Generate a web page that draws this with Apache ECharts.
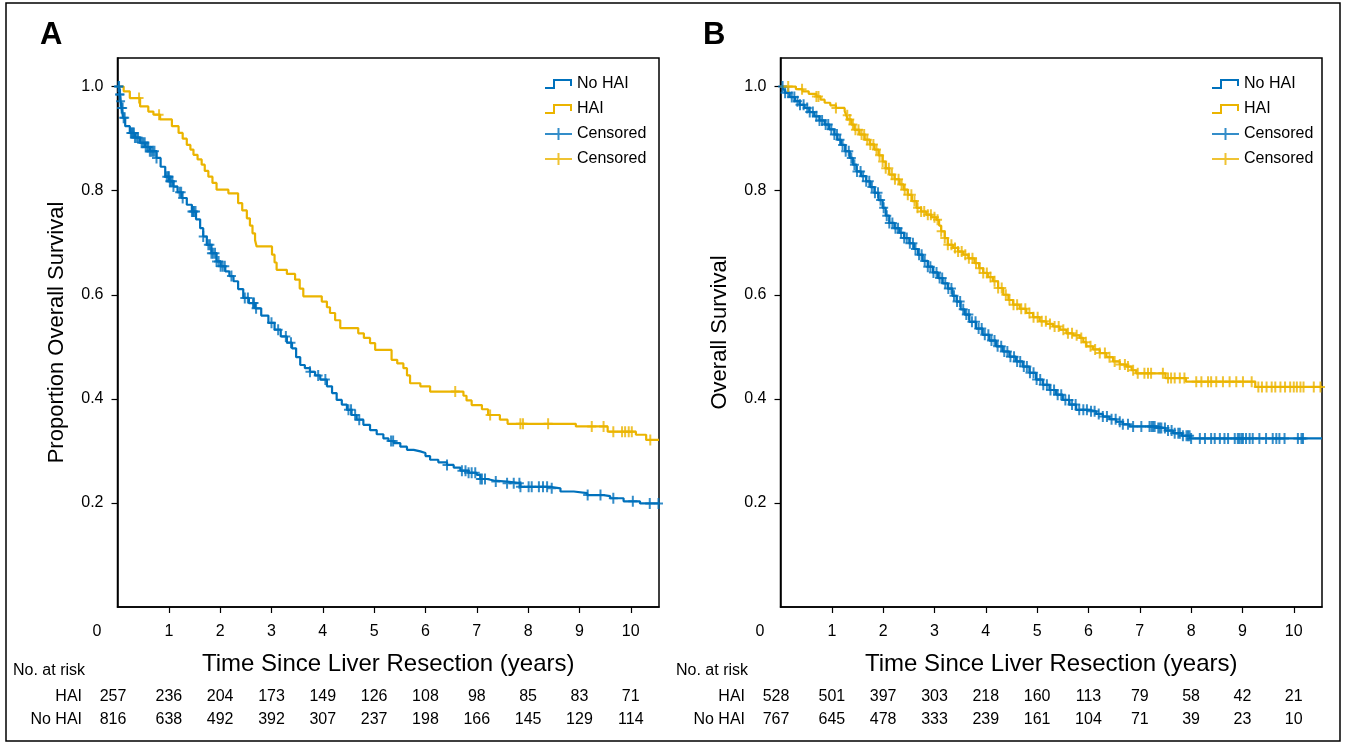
<!DOCTYPE html>
<html>
<head>
<meta charset="utf-8">
<script src="https://cdn.jsdelivr.net/npm/echarts@6/dist/echarts.min.js"></script>
<style>
html,body{margin:0;padding:0;background:#fff;}
#c{width:1345px;height:743px;}
</style>
</head>
<body>
<div id="c"></div>
<script>
// ---------- DATA ----------
var xTickValues = [1,2,3,4,5,6,7,8,9,10];
var xLabelValues = [0,1,2,3,4,5,6,7,8,9,10];
var yTickValues = [0.2,0.4,0.6,0.8,1.0];
var riskTimes = [0,1,2,3,4,5,6,7,8,9,10];

// Panel A
var aRiskHAI   = [257,236,204,173,149,126,108,98,85,83,71];
var aRiskNoHAI = [816,638,492,392,307,237,198,166,145,129,114];

var aNoHAI = [[0,1.0],[0.04,0.985],[0.06,0.972],[0.08,0.959],[0.11,0.940],[0.15,0.924],[0.24,0.911],[0.34,0.902],[0.44,0.892],[0.54,0.884],[0.63,0.876],[0.76,0.863],[0.84,0.846],[0.93,0.827],[1.01,0.818],[1.09,0.808],[1.17,0.797],[1.25,0.786],[1.35,0.773],[1.45,0.760],[1.53,0.745],[1.61,0.728],[1.67,0.712],[1.74,0.696],[1.83,0.680],[1.93,0.664],[2.01,0.655],[2.10,0.645],[2.18,0.636],[2.26,0.626],[2.35,0.611],[2.45,0.594],[2.56,0.584],[2.68,0.574],[2.80,0.560],[2.94,0.546],[3.06,0.533],[3.18,0.520],[3.30,0.508],[3.40,0.497],[3.48,0.480],[3.56,0.465],[3.65,0.459],[3.75,0.452],[3.85,0.445],[3.95,0.437],[4.08,0.424],[4.18,0.411],[4.27,0.398],[4.37,0.389],[4.47,0.379],[4.56,0.369],[4.66,0.360],[4.79,0.350],[4.92,0.340],[5.05,0.332],[5.18,0.324],[5.28,0.319],[5.38,0.315],[5.51,0.308],[5.64,0.302],[5.77,0.299],[5.90,0.296],[6.00,0.290],[6.09,0.283],[6.25,0.278],[6.42,0.273],[6.55,0.268],[6.68,0.262],[6.84,0.258],[7.00,0.254],[7.07,0.246],[7.20,0.243],[7.33,0.241],[7.59,0.238],[7.85,0.231],[8.43,0.228],[8.63,0.222],[8.89,0.219],[9.15,0.215],[9.47,0.213],[9.60,0.209],[9.86,0.203],[10.18,0.199],[10.55,0.198]];

var aHAI = [[0,1.0],[0.12,0.991],[0.24,0.978],[0.44,0.962],[0.60,0.952],[0.70,0.946],[0.83,0.937],[1.06,0.924],[1.19,0.911],[1.27,0.900],[1.35,0.888],[1.42,0.879],[1.48,0.869],[1.56,0.860],[1.64,0.850],[1.70,0.838],[1.77,0.827],[1.85,0.815],[1.93,0.802],[2.16,0.795],[2.35,0.776],[2.43,0.762],[2.52,0.747],[2.58,0.733],[2.63,0.718],[2.68,0.705],[2.71,0.693],[3.01,0.677],[3.06,0.662],[3.10,0.648],[3.30,0.640],[3.46,0.629],[3.55,0.612],[3.62,0.597],[3.98,0.587],[4.08,0.576],[4.14,0.565],[4.24,0.551],[4.34,0.536],[4.69,0.526],[4.80,0.517],[4.92,0.507],[5.02,0.494],[5.34,0.475],[5.45,0.468],[5.57,0.459],[5.64,0.445],[5.70,0.430],[5.90,0.424],[6.09,0.414],[6.74,0.406],[6.80,0.397],[6.90,0.388],[7.10,0.380],[7.22,0.369],[7.45,0.360],[7.60,0.352],[8.93,0.347],[9.55,0.337],[10.10,0.331],[10.30,0.321],[10.55,0.321]];

var aNoHAICens = [0.02,0.03,0.04,0.05,0.06,0.08,0.10,0.12,0.14,0.26,0.28,0.30,0.32,0.34,0.37,0.40,0.47,0.50,0.53,0.55,0.58,0.60,0.63,0.66,0.69,0.72,0.76,0.96,0.99,1.00,1.02,1.04,1.07,1.09,1.21,1.24,1.27,1.45,1.47,1.49,1.52,1.67,1.77,1.80,1.83,1.86,1.90,1.93,1.97,2.01,2.05,2.09,2.22,2.48,2.54,2.64,2.66,2.70,3.00,3.13,3.28,3.38,3.75,3.91,4.05,4.50,4.55,4.63,4.71,5.33,5.37,6.42,6.71,6.78,6.84,6.90,6.97,7.07,7.10,7.16,7.37,7.59,7.72,7.83,7.85,8.01,8.07,8.21,8.29,8.37,8.46,9.16,9.41,9.66,10.04,10.37,10.54];
var aHAICens = [0.42,0.81,6.58,7.26,7.85,7.90,8.39,9.24,9.47,9.66,9.83,9.89,9.96,10.02,10.38];

// Panel B
var bRiskHAI   = [528,501,397,303,218,160,113,79,58,42,21];
var bRiskNoHAI = [767,645,478,333,239,161,104,71,39,23,10];

var bNoHAI = [[0,1.0],[0.05,0.994],[0.09,0.988],[0.18,0.980],[0.28,0.972],[0.37,0.965],[0.47,0.959],[0.56,0.951],[0.66,0.943],[0.76,0.935],[0.86,0.927],[0.95,0.918],[1.05,0.908],[1.11,0.898],[1.18,0.888],[1.26,0.876],[1.35,0.863],[1.41,0.850],[1.48,0.837],[1.57,0.828],[1.67,0.818],[1.75,0.807],[1.83,0.796],[1.91,0.782],[1.99,0.767],[2.05,0.752],[2.12,0.738],[2.22,0.728],[2.32,0.719],[2.41,0.709],[2.51,0.699],[2.60,0.688],[2.68,0.677],[2.77,0.665],[2.87,0.654],[2.97,0.643],[3.07,0.632],[3.16,0.622],[3.26,0.612],[3.35,0.598],[3.43,0.587],[3.51,0.572],[3.59,0.562],[3.68,0.548],[3.81,0.535],[3.94,0.523],[4.07,0.512],[4.20,0.501],[4.33,0.491],[4.46,0.481],[4.59,0.472],[4.72,0.462],[4.85,0.450],[4.98,0.437],[5.11,0.427],[5.24,0.417],[5.37,0.408],[5.50,0.398],[5.63,0.389],[5.76,0.379],[6.02,0.376],[6.15,0.371],[6.28,0.366],[6.41,0.361],[6.54,0.356],[6.67,0.351],[6.80,0.347],[7.32,0.344],[7.50,0.339],[7.65,0.334],[7.82,0.329],[7.98,0.324],[10.55,0.324]];

var bHAI = [[0,1.0],[0.30,0.995],[0.43,0.991],[0.55,0.986],[0.70,0.981],[0.78,0.975],[0.86,0.969],[0.97,0.964],[1.08,0.959],[1.25,0.953],[1.28,0.945],[1.31,0.937],[1.38,0.927],[1.44,0.917],[1.54,0.908],[1.64,0.898],[1.74,0.889],[1.83,0.879],[1.91,0.868],[1.99,0.856],[2.05,0.843],[2.12,0.831],[2.22,0.822],[2.32,0.812],[2.40,0.802],[2.48,0.792],[2.56,0.780],[2.65,0.767],[2.74,0.760],[2.84,0.754],[2.94,0.749],[3.04,0.744],[3.09,0.733],[3.13,0.722],[3.20,0.709],[3.26,0.696],[3.36,0.690],[3.46,0.683],[3.56,0.677],[3.66,0.670],[3.78,0.661],[3.87,0.651],[3.95,0.642],[4.04,0.634],[4.14,0.626],[4.24,0.613],[4.34,0.600],[4.44,0.590],[4.53,0.581],[4.66,0.573],[4.79,0.565],[4.92,0.557],[5.05,0.549],[5.18,0.544],[5.31,0.539],[5.44,0.533],[5.57,0.526],[5.70,0.522],[5.83,0.517],[5.90,0.509],[5.96,0.501],[6.09,0.495],[6.22,0.488],[6.35,0.480],[6.48,0.472],[6.61,0.466],[6.74,0.462],[6.84,0.455],[6.93,0.449],[7.50,0.440],[7.90,0.433],[9.25,0.423],[10.55,0.423]];

var bNoHAICens = [0.04,0.09,0.15,0.22,0.27,0.33,0.38,0.45,0.52,0.57,0.63,0.70,0.76,0.81,0.88,0.93,0.99,1.05,1.10,1.16,1.21,1.27,1.33,1.38,1.44,1.49,1.56,1.61,1.67,1.73,1.78,1.84,1.90,1.95,2.01,2.07,2.12,2.18,2.24,2.29,2.35,2.41,2.46,2.52,2.58,2.63,2.70,2.75,2.81,2.87,2.92,2.98,3.04,3.10,3.15,3.21,3.27,3.33,3.38,3.44,3.50,3.56,3.62,3.67,3.73,3.80,3.86,3.92,3.98,4.05,4.11,4.17,4.23,4.30,4.36,4.42,4.48,4.55,4.61,4.67,4.74,4.80,4.86,4.93,4.99,5.06,5.12,5.19,5.26,5.33,5.40,5.47,5.55,5.62,5.68,5.75,5.82,5.90,5.97,6.05,6.12,6.20,6.28,6.36,6.45,6.53,6.61,6.67,6.77,6.87,7.03,7.19,7.23,7.26,7.29,7.36,7.39,7.42,7.49,7.55,7.62,7.68,7.75,7.78,7.84,7.91,7.94,7.97,8.00,8.17,8.27,8.39,8.46,8.56,8.65,8.72,8.85,8.91,8.94,8.98,9.01,9.07,9.14,9.20,9.33,9.46,9.59,9.66,9.72,9.82,10.08,10.15,10.18];
var bHAICens = [0.15,0.42,0.70,0.74,1.08,1.30,1.35,1.41,1.46,1.52,1.58,1.63,1.69,1.75,1.81,1.87,1.93,1.99,2.05,2.11,2.17,2.23,2.30,2.36,2.42,2.48,2.55,2.61,2.67,2.74,2.80,2.87,2.93,3.00,3.06,3.13,3.20,3.26,3.33,3.40,3.46,3.53,3.60,3.67,3.74,3.81,3.88,3.95,4.02,4.09,4.17,4.24,4.31,4.39,4.46,4.54,4.61,4.69,4.77,4.85,4.93,5.01,5.09,5.17,5.25,5.34,5.42,5.51,5.60,5.68,5.77,5.86,5.95,6.04,6.13,6.22,6.32,6.41,6.51,6.61,6.71,6.77,6.87,6.96,7.09,7.16,7.22,7.45,7.55,7.61,7.68,7.78,7.87,8.10,8.20,8.33,8.39,8.49,8.62,8.75,8.88,9.01,9.18,9.31,9.38,9.47,9.57,9.64,9.74,9.83,9.93,10.00,10.06,10.13,10.19,10.39,10.52];

// ---------- STYLE ----------
var BLUE = '#0071BC', GOLD = '#EBB400';
var FONT = '"Liberation Sans", Arial, Helvetica, sans-serif';
var PLUS = 'path://M3.5,0h2v4.5h3.5v2h-3.5v4.5h-2v-4.5h-3.5v-2h3.5z';
var ICON_STEP = 'path://M0,9H8V1H27V8H25V3H10V11H0Z';
var ICON_CENS = 'path://M0,5H12.5V0H14.5V5H27V7H14.5V12H12.5V7H0Z';

function stepAt(curve, t){
  var s = curve[0][1];
  for (var i=0;i<curve.length;i++){ if (curve[i][0] <= t) s = curve[i][1]; else break; }
  return s;
}
function censPts(curve, times){ return times.map(function(t){ return [t, stepAt(curve, t)]; }); }

var chart = echarts.init(document.getElementById('c'));

function xAxisFor(i){
  return {
    type:'value', gridIndex:i, min:0, max:10.55, interval:1,
    axisLine:{show:true, lineStyle:{color:'#000', width:1.5}},
    axisTick:{show:true, inside:false, length:6, lineStyle:{color:'#000', width:1.2}, customValues:xTickValues},
    axisLabel:{customValues:xLabelValues, color:'#000', fontSize:16, fontFamily:FONT, margin:17,
      formatter:function(v){ return v===0 ? '{z|0}' : String(v); },
      rich:{z:{padding:[0,41,0,0], fontSize:16, color:'#000', fontFamily:FONT}}},
    splitLine:{show:false},
    name:'Time Since Liver Resection (years)', nameLocation:'middle', nameGap:45,
    nameTextStyle:{fontSize:24, color:'#000', fontFamily:FONT}
  };
}
function yAxisFor(i, name){
  return {
    type:'value', gridIndex:i, min:0, max:1.055, interval:0.2,
    axisLine:{show:true, lineStyle:{color:'#000', width:1.5}},
    axisTick:{show:true, inside:false, length:6, lineStyle:{color:'#000', width:1.2}, customValues:yTickValues},
    axisLabel:{customValues:yTickValues, color:'#000', fontSize:16, fontFamily:FONT, margin:14,
      formatter:function(v){ return v.toFixed(1); }},
    splitLine:{show:false},
    name:name, nameLocation:'middle', nameGap:50,
    nameTextStyle:{fontSize:22, color:'#000', fontFamily:FONT}
  };
}
function lineSeries(name, i, data, color){
  return {type:'line', name:name, xAxisIndex:i, yAxisIndex:i, data:data, step:'end',
    showSymbol:false, symbol:'none', color:color, lineStyle:{color:color, width:2.2}, z:2};
}
function censSeries(name, i, curve, times, color){
  return {type:'scatter', name:name, xAxisIndex:i, yAxisIndex:i, data:censPts(curve, times),
    symbol:PLUS, symbolSize:[9,11], itemStyle:{color:color}, color:color, z:3};
}
function legendFor(left){
  return {
    orient:'vertical', left:left, top:71, itemWidth:27, itemHeight:12, itemGap:9,
    textStyle:{fontSize:16, color:'#000', fontFamily:FONT, lineHeight:16},
    selectedMode:false,
    data:[{name:'No HAI', icon:ICON_STEP},{name:'HAI', icon:ICON_STEP},
          {name:'Censored', icon:ICON_CENS},{name:'Censored ', icon:ICON_CENS}]
  };
}

var option = {
  animation:false,
  backgroundColor:'#fff',
  textStyle:{fontFamily:FONT},
  grid:[
    {left:117.5, top:58, width:541.5, height:549, show:true, borderColor:'#000', borderWidth:1.5, backgroundColor:'transparent'},
    {left:780.5, top:58, width:541.5, height:549, show:true, borderColor:'#000', borderWidth:1.5, backgroundColor:'transparent'}
  ],
  xAxis:[xAxisFor(0), xAxisFor(1)],
  yAxis:[yAxisFor(0,'Proportion Overall Survival'), yAxisFor(1,'Overall Survival')],
  legend:[legendFor(540), legendFor(1207)],
  series:[
    lineSeries('No HAI',0,aNoHAI,BLUE),
    lineSeries('HAI',0,aHAI,GOLD),
    censSeries('Censored',0,aNoHAI,aNoHAICens,BLUE),
    censSeries('Censored ',0,aHAI,aHAICens,GOLD),
    lineSeries('No HAI',1,bNoHAI,BLUE),
    lineSeries('HAI',1,bHAI,GOLD),
    censSeries('Censored',1,bNoHAI,bNoHAICens,BLUE),
    censSeries('Censored ',1,bHAI,bHAICens,GOLD)
  ]
};
chart.setOption(option);

// ---------- frame, panel letters, risk tables ----------
var g = [];
g.push({type:'rect', shape:{x:6, y:3, width:1334, height:738}, style:{fill:'none', stroke:'#000', lineWidth:1.5}, silent:true, z:-1});
g.push({type:'text', x:40, y:20, style:{text:'A', font:'bold 31px ' + FONT, fill:'#000'}});
g.push({type:'text', x:703, y:20, style:{text:'B', font:'bold 31px ' + FONT, fill:'#000'}});

function riskTable(idx, hai, nohai){
  var x0 = chart.convertToPixel({xAxisIndex:idx}, 0);
  var yRow1 = 697, yRow2 = 720;
  g.push({type:'text', x:x0-104.5, y:671, style:{text:'No. at risk', font:'16px ' + FONT, fill:'#000', verticalAlign:'middle', align:'left'}});
  g.push({type:'text', x:x0-35.5, y:yRow1, style:{text:'HAI', font:'16px ' + FONT, fill:'#000', verticalAlign:'middle', align:'right'}});
  g.push({type:'text', x:x0-35.5, y:yRow2, style:{text:'No HAI', font:'16px ' + FONT, fill:'#000', verticalAlign:'middle', align:'right'}});
  riskTimes.forEach(function(t, k){
    var px = chart.convertToPixel({xAxisIndex:idx}, t) + (k===0 ? -4.5 : 0);
    g.push({type:'text', x:px, y:yRow1, style:{text:String(hai[k]), font:'16px ' + FONT, fill:'#000', align:'center', verticalAlign:'middle'}});
    g.push({type:'text', x:px, y:yRow2, style:{text:String(nohai[k]), font:'16px ' + FONT, fill:'#000', align:'center', verticalAlign:'middle'}});
  });
}
riskTable(0, aRiskHAI, aRiskNoHAI);
riskTable(1, bRiskHAI, bRiskNoHAI);
chart.setOption({graphic:g});
</script>
</body>
</html>
